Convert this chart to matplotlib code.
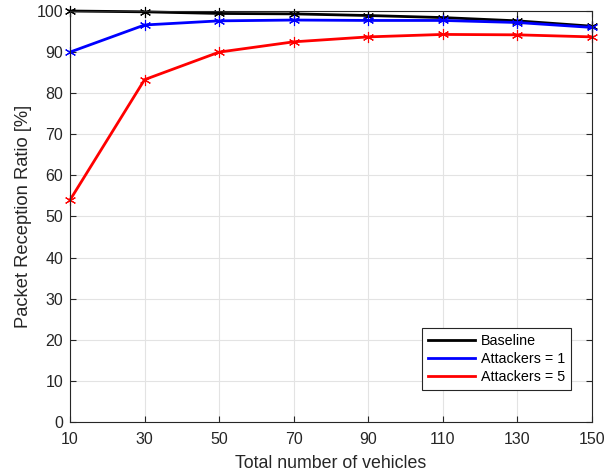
import matplotlib
matplotlib.use("Agg")
import matplotlib.pyplot as plt

plt.rcParams['font.family'] = ['Liberation Sans', 'DejaVu Sans']

vehicles = [10, 30, 50, 70, 90, 110, 130, 150]
baseline = [100.0, 99.8, 99.4, 99.3, 98.9, 98.4, 97.6, 96.3]
attackers1 = [90.0, 96.6, 97.6, 97.8, 97.7, 97.7, 97.2, 96.0]
attackers5 = [54.0, 83.3, 90.0, 92.5, 93.7, 94.3, 94.2, 93.7]
labels = ['Baseline', 'Attackers = 1', 'Attackers = 5']
colors = ['black', 'blue', 'red']

fig = plt.figure(figsize=(6.15, 4.73), dpi=100)
ax = fig.add_axes([70/615, 1-422/473, (592-70)/615, (422-11)/473])

for data, lab, c in zip([baseline, attackers1, attackers5], labels, colors):
    ax.plot(vehicles, data, color=c, lw=2, marker=(6, 2, 0), markersize=8,
            markeredgewidth=0.8, label=lab, clip_on=False)

ax.set_xlim(10, 150)
ax.set_ylim(0, 100)
ax.set_xticks(vehicles)
ax.set_yticks(range(0, 101, 10))
ax.grid(True, color='#e3e3e3', lw=0.8)
ax.set_axisbelow(True)
ax.tick_params(direction='in', labelsize=11.5, colors='#262626', length=4,
               top=True, right=True, labeltop=False, labelright=False)
ax.tick_params(axis='x', pad=7)
ax.tick_params(axis='y', pad=5)
for s in ax.spines.values():
    s.set_color('#262626')
    s.set_linewidth(0.8)
ax.set_xlabel('Total number of vehicles', fontsize=12.8, color='#262626', labelpad=6)
ax.set_ylabel('Packet Reception Ratio [%]', fontsize=13.2, color='#262626', labelpad=3)

leg = ax.legend(loc='lower right', fontsize=10.3, fancybox=False, framealpha=1,
                edgecolor='#262626', handlelength=3.3, borderpad=0.4,
                labelspacing=0.3, handletextpad=0.4, borderaxespad=0,
                bbox_to_anchor=(0.96, 0.078))
for h in leg.get_lines():
    h.set_marker('')
leg.get_frame().set_linewidth(0.8)

fig.savefig('out.png', dpi=100)
